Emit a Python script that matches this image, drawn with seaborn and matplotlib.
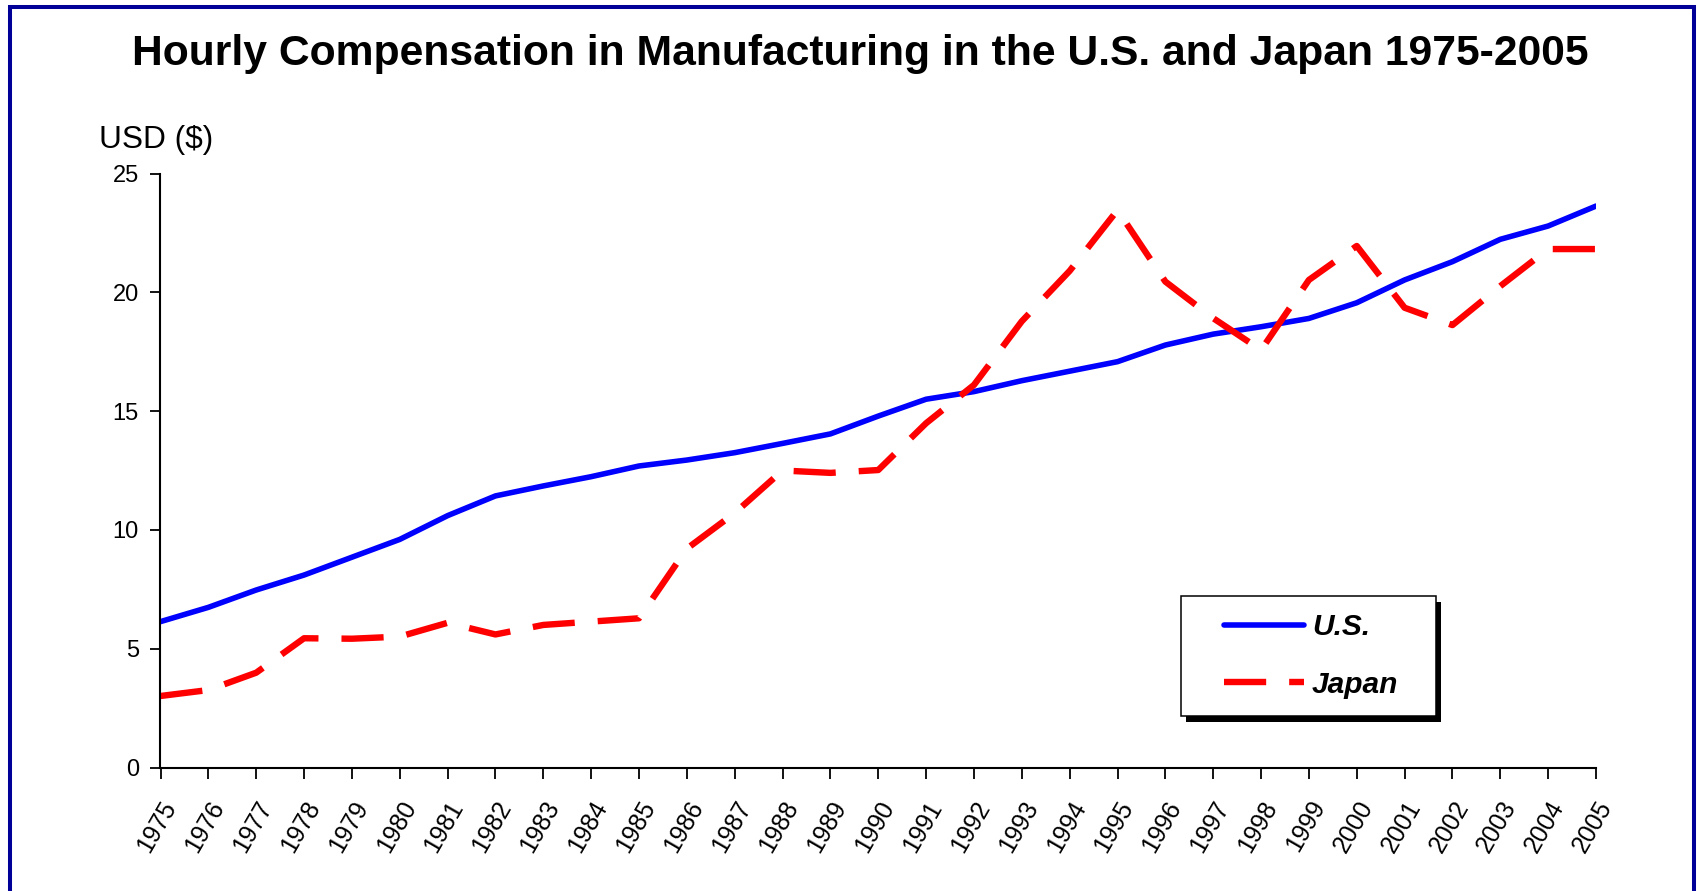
import pandas as pd
import matplotlib
matplotlib.use("Agg")
import matplotlib.pyplot as plt
from matplotlib.patches import Rectangle
from matplotlib.lines import Line2D
import seaborn as sns

# ---------- Data ----------
years = list(range(1975, 2006))
us_comp = [6.14, 6.74, 7.47, 8.10, 8.85, 9.60, 10.60, 11.43, 11.85, 12.24,
           12.69, 12.94, 13.25, 13.64, 14.04, 14.79, 15.50, 15.82, 16.28, 16.68,
           17.08, 17.78, 18.24, 18.55, 18.90, 19.56, 20.52, 21.29, 22.23, 22.79,
           23.63]
japan_comp = [3.01, 3.26, 3.99, 5.44, 5.42, 5.51, 6.09, 5.60, 6.00, 6.14,
              6.28, 9.21, 10.71, 12.50, 12.40, 12.52, 14.49, 16.10, 18.78, 20.90,
              23.46, 20.45, 18.91, 17.57, 20.52, 21.95, 19.35, 18.62, 20.26, 21.82,
              21.82]
series_names = ["U.S.", "Japan"]
y_ticks = [0, 5, 10, 15, 20, 25]
title = "Hourly Compensation in Manufacturing in the U.S. and Japan 1975-2005"
y_label = "USD ($)"

W, H = 1699, 891


def fx(px):
    return px / W


def fy(py):
    return 1 - py / H


sns.set_style("white")
plt.rcParams["font.family"] = ["Liberation Sans", "DejaVu Sans"]
plt.rcParams["text.color"] = "black"
plt.rcParams["axes.labelcolor"] = "black"
plt.rcParams["xtick.color"] = "black"
plt.rcParams["ytick.color"] = "black"

fig = plt.figure(figsize=(W / 100, H / 100), dpi=100)
fig.patch.set_facecolor("white")
ax = fig.add_axes([fx(160.5), fy(767.5), fx(1596) - fx(160.5), fy(173.5) - fy(767.5)])

df = pd.DataFrame({"Year": years, "U.S.": us_comp, "Japan": japan_comp})
us_color, jp_color = "#0000FF", "#FF0000"
jp_dash = (0, (6.6, 3.6))

sns.lineplot(data=df, x="Year", y="U.S.", ax=ax, color=us_color,
             linewidth=4.0, solid_capstyle="round")
sns.lineplot(data=df, x="Year", y="Japan", ax=ax, color=jp_color,
             linewidth=4.6, linestyle=jp_dash)

# ---------- Axes ----------
ax.set_xlim(1975, 2005)
ax.set_ylim(0, 25)
ax.set_xticks(years)
ax.set_xticklabels([str(y) for y in years], rotation=60, ha="right",
                   va="top", rotation_mode="anchor")
ax.set_yticks(y_ticks)
ax.set_xlabel("")
ax.set_ylabel("")
ax.tick_params(axis="y", direction="out", length=7, width=1.3, pad=8.5,
               labelsize=17, left=True, colors="black")
ax.tick_params(axis="x", direction="out", length=8, width=1.3, pad=13,
               labelsize=17.8, bottom=True, colors="black")
sns.despine(ax=ax)
for side in ["left", "bottom"]:
    ax.spines[side].set_linewidth(1.5)
    ax.spines[side].set_color("black")

# ---------- Texts ----------
fig.text(fx(860), fy(54), title, ha="center", va="center",
         fontsize=30.7, fontweight="bold", color="black")
fig.text(fx(99), fy(140), y_label, ha="left", va="center", fontsize=22.8,
         color="black")

# ---------- Outer blue border ----------
fig.add_artist(Rectangle((fx(10.5), -0.1), fx(1694) - fx(10.5), fy(6.5) + 0.1,
                         transform=fig.transFigure, fill=False,
                         edgecolor="#000099", linewidth=2.9, zorder=1))

# ---------- Legend with shadow ----------
box_w, box_h = 255 / W, 120 / H
fig.add_artist(Rectangle((fx(1186), fy(722)), box_w, box_h,
                         transform=fig.transFigure, facecolor="black",
                         edgecolor="black", linewidth=0, zorder=2))
fig.add_artist(Rectangle((fx(1181), fy(716)), box_w, box_h,
                         transform=fig.transFigure, facecolor="white",
                         edgecolor="black", linewidth=1.1, zorder=3))

handles = [
    Line2D([], [], color=us_color, linewidth=4.0, solid_capstyle="round"),
    Line2D([], [], color=jp_color, linewidth=4.6, linestyle=jp_dash),
]
fig.legend(handles, series_names, loc="upper left",
           bbox_to_anchor=(fx(1224), fy(613)), bbox_transform=fig.transFigure,
           frameon=False, borderpad=0, borderaxespad=0,
           handlelength=2.68, handletextpad=0.27, labelspacing=1.0,
           prop={"weight": "bold", "style": "italic", "size": 21.5})

fig.savefig("out.png", dpi=100, facecolor="white")
